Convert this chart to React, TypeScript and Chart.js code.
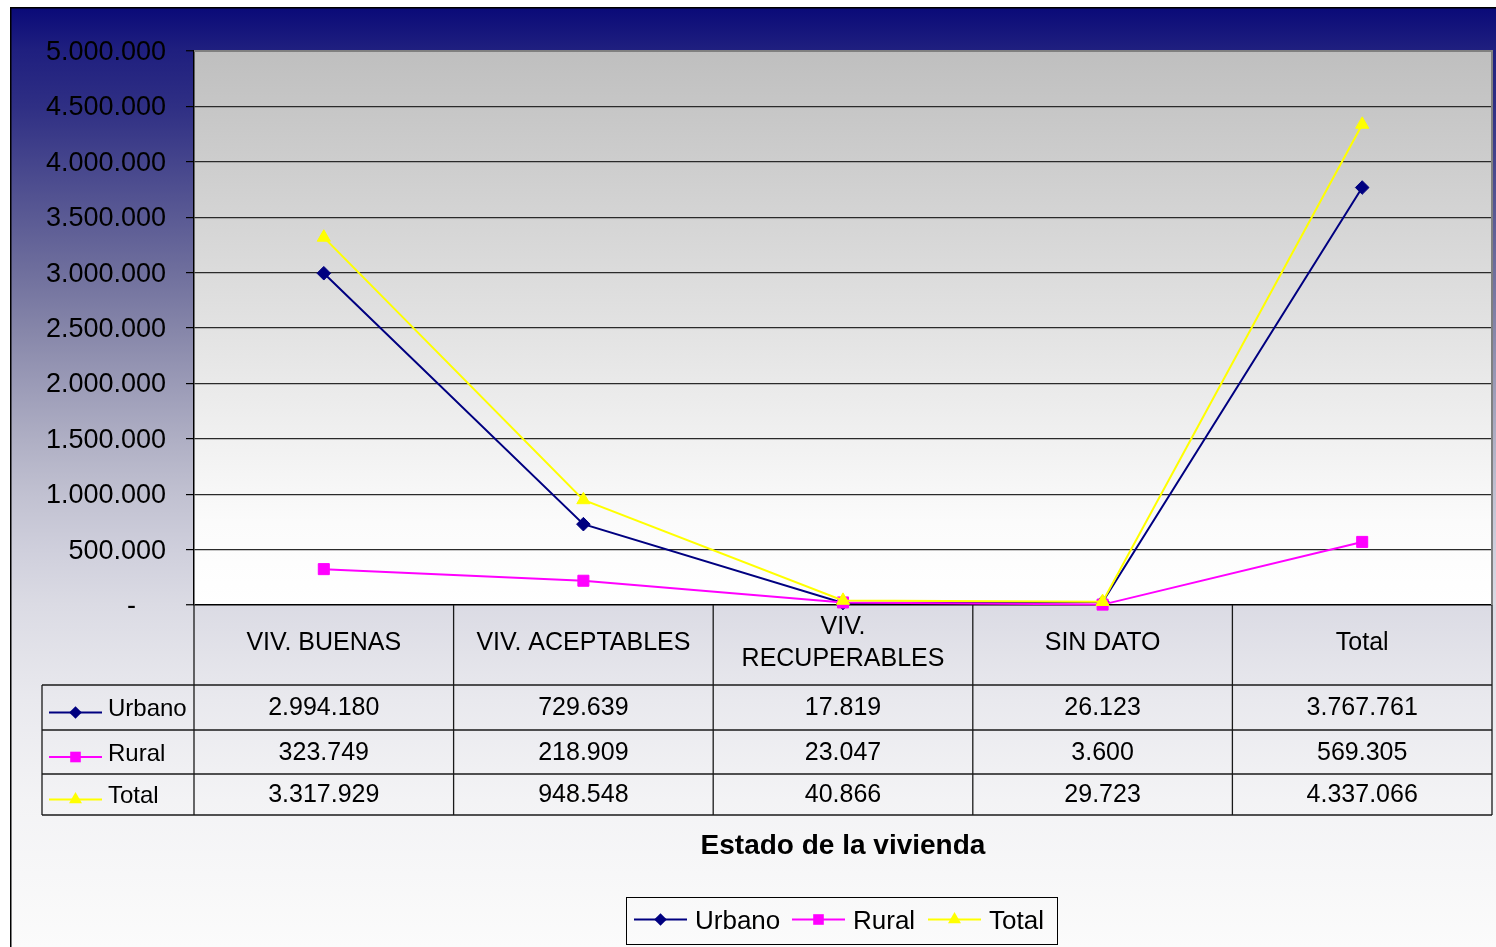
import React, { useEffect, useRef } from 'react';
import { Chart, registerables } from 'chart.js';

Chart.register(...registerables);

// ---------- DATA ----------
const categories: string[][] = [
  ['VIV. BUENAS'],
  ['VIV. ACEPTABLES'],
  ['VIV.', 'RECUPERABLES'],
  ['SIN DATO'],
  ['Total'],
];
const urbano = [2994180, 729639, 17819, 26123, 3767761];
const rural = [323749, 218909, 23047, 3600, 569305];
const total = [3317929, 948548, 40866, 29723, 4337066];
const seriesNames = ['Urbano', 'Rural', 'Total'];
const seriesData = [urbano, rural, total];
const seriesColors = ['#000080', '#FF00FF', '#FFFF00'];
const pointStyles = ['rectRot', 'rect', 'triangle'];
const pointRadii = [6.8, 7.8, 7.6];
const yMin = 0;
const yMax = 5000000;
const yStep = 500000;
const axisTitle = 'Estado de la vivienda';

const FONT = '"Liberation Sans", Arial, Helvetica, sans-serif';

function fmt(v: number): string {
  return String(Math.round(v)).replace(/\B(?=(\d{3})+(?!\d))/g, '.');
}

function drawMarker(ctx: CanvasRenderingContext2D, style: string, x: number, y: number, r: number, color: string) {
  ctx.save();
  ctx.fillStyle = color;
  ctx.beginPath();
  if (style === 'rectRot') {
    ctx.moveTo(x, y - r);
    ctx.lineTo(x + r, y);
    ctx.lineTo(x, y + r);
    ctx.lineTo(x - r, y);
    ctx.closePath();
  } else if (style === 'rect') {
    const s = r * Math.SQRT1_2;
    ctx.rect(x - s, y - s, 2 * s, 2 * s);
  } else {
    const c = Math.cos(Math.PI / 6) * r;
    ctx.moveTo(x, y - r);
    ctx.lineTo(x + c, y + r / 2);
    ctx.lineTo(x - c, y + r / 2);
    ctx.closePath();
  }
  ctx.fill();
  ctx.restore();
}

function drawLegendSymbol(ctx: CanvasRenderingContext2D, i: number, x0: number, x1: number, y: number, r: number) {
  ctx.save();
  ctx.strokeStyle = seriesColors[i];
  ctx.lineWidth = 2;
  ctx.beginPath();
  ctx.moveTo(x0, y);
  ctx.lineTo(x1, y);
  ctx.stroke();
  ctx.restore();
  drawMarker(ctx, pointStyles[i], (x0 + x1) / 2, y, r, seriesColors[i]);
}

const decorPlugin = {
  id: 'excelDecor',
  beforeDraw(chart: any) {
    const { ctx, chartArea: ca } = chart;
    const W = chart.width;
    const H = chart.height;
    ctx.save();
    const g = ctx.createLinearGradient(0, 7, 0, H);
    const stops: [number, string][] = [
      [7, '#0a0a78'], [50, '#1f1f7f'], [107, '#2f2f84'], [160, '#44448c'], [217, '#5a5a94'],
      [272, '#6f6f9d'], [330, '#8686a9'], [385, '#9b9bb7'], [440, '#afafc4'], [495, '#c1c1d1'],
      [550, '#cfcfdc'], [605, '#dbdbe4'], [700, '#e9e9ee'], [800, '#f3f3f5'], [947, '#fbfbfb'],
    ];
    stops.forEach(([y, c]) => g.addColorStop(Math.min(1, Math.max(0, (y - 7) / (H - 7))), c));
    ctx.fillStyle = g;
    ctx.fillRect(10, 7, W - 10, H - 7);
    ctx.strokeStyle = '#000';
    ctx.lineWidth = 1.5;
    ctx.beginPath();
    ctx.moveTo(10.75, H);
    ctx.lineTo(10.75, 7.75);
    ctx.lineTo(W, 7.75);
    ctx.stroke();
    // plot area
    const pg = ctx.createLinearGradient(0, ca.top, 0, ca.bottom);
    pg.addColorStop(0, '#bfbfbf');
    pg.addColorStop(0.55, '#e6e6e6');
    pg.addColorStop(0.85, '#fbfbfb');
    pg.addColorStop(1, '#ffffff');
    ctx.fillStyle = pg;
    ctx.fillRect(ca.left, ca.top, ca.right - ca.left, ca.bottom - ca.top);
    ctx.restore();
  },
  beforeDatasetsDraw(chart: any) {
    const { ctx, chartArea: ca } = chart;
    ctx.save();
    ctx.strokeStyle = '#808080';
    ctx.lineWidth = 2;
    ctx.beginPath();
    ctx.moveTo(ca.left, ca.top);
    ctx.lineTo(ca.right, ca.top);
    ctx.lineTo(ca.right, ca.bottom);
    ctx.stroke();
    ctx.restore();
  },
  afterDraw(chart: any) {
    const { ctx, chartArea: ca } = chart;
    const xs = chart.scales.x;
    const colW = xs.getPixelForValue(1) - xs.getPixelForValue(0);
    const headerTop = ca.bottom;
    const headerBottom = headerTop + 80;
    const rowLines = [headerBottom, headerBottom + 45, headerBottom + 89, headerBottom + 130];
    const labelLeft = 42;
    const right = ca.right;

    ctx.save();
    ctx.strokeStyle = '#1a1a1a';
    ctx.lineWidth = 1.3;
    rowLines.forEach((y) => {
      ctx.beginPath();
      ctx.moveTo(labelLeft, y);
      ctx.lineTo(right, y);
      ctx.stroke();
    });
    ctx.beginPath();
    ctx.moveTo(labelLeft, rowLines[0]);
    ctx.lineTo(labelLeft, rowLines[3]);
    ctx.stroke();
    for (let i = 0; i <= categories.length; i++) {
      const x = i < categories.length ? xs.getPixelForValue(i) - colW / 2 : xs.getPixelForValue(i - 1) + colW / 2;
      ctx.beginPath();
      ctx.moveTo(x, headerTop);
      ctx.lineTo(x, rowLines[3]);
      ctx.stroke();
    }

    ctx.fillStyle = '#000';
    ctx.textAlign = 'center';
    ctx.textBaseline = 'middle';
    ctx.font = `25px ${FONT}`;
    categories.forEach((lines, i) => {
      const cx = xs.getPixelForValue(i);
      const cy = (headerTop + headerBottom) / 2 - 2;
      const lh = 32;
      lines.forEach((t, k) => {
        ctx.fillText(t, cx, cy + (k - (lines.length - 1) / 2) * lh);
      });
    });
    seriesData.forEach((vals, r) => {
      const cy = (rowLines[r] + rowLines[r + 1]) / 2 + 1;
      ctx.font = `25px ${FONT}`;
      vals.forEach((v, i) => {
        ctx.textAlign = 'center';
        ctx.fillText(fmt(v), xs.getPixelForValue(i), cy);
      });
      drawLegendSymbol(ctx, r, 49, 102, cy + 4, [6.3, 7.5, 7.5][r]);
      ctx.font = `24px ${FONT}`;
      ctx.textAlign = 'left';
      ctx.fillText(seriesNames[r], 108, cy + 1);
    });

    ctx.textAlign = 'center';
    ctx.font = `bold 28px ${FONT}`;
    ctx.fillText(axisTitle, (ca.left + ca.right) / 2, 846);

    const lx0 = 626, lx1 = 1057, ly0 = 897, ly1 = 944;
    ctx.strokeStyle = '#000';
    ctx.lineWidth = 1;
    ctx.strokeRect(lx0 + 0.5, ly0 + 0.5, lx1 - lx0, ly1 - ly0);
    ctx.font = `26px ${FONT}`;
    ctx.textAlign = 'left';
    const ly = (ly0 + ly1) / 2;
    const itemX = [634, 792, 928];
    seriesNames.forEach((name, i) => {
      drawLegendSymbol(ctx, i, itemX[i], itemX[i] + 53, ly - 1, [6.3, 7.5, 7.5][i]);
      ctx.fillText(name, itemX[i] + 61, ly + 1);
    });
    ctx.restore();
  },
};

export default function App() {
  const canvasRef = useRef<HTMLCanvasElement | null>(null);

  useEffect(() => {
    if (!canvasRef.current) return;
    const chart = new Chart(canvasRef.current, {
      type: 'line',
      data: {
        labels: categories.map((c) => c.join(' ')),
        datasets: seriesNames.map((name, i) => ({
          label: name,
          data: seriesData[i],
          borderColor: seriesColors[i],
          backgroundColor: seriesColors[i],
          borderWidth: 2,
          pointStyle: pointStyles[i] as any,
          pointRadius: pointRadii[i],
          pointHoverRadius: pointRadii[i],
          pointBorderWidth: 1,
          pointBorderColor: seriesColors[i],
          pointBackgroundColor: seriesColors[i],
          tension: 0,
          clip: false as any,
          order: 3 - i,
        })),
      },
      options: {
        responsive: false,
        animation: false,
        layout: { autoPadding: false, padding: { left: 0, top: 51, right: 4, bottom: 342 } },
        plugins: {
          legend: { display: false },
          tooltip: { enabled: false },
          title: { display: false },
        },
        scales: {
          x: {
            type: 'category',
            display: false,
            offset: true,
          },
          y: {
            min: yMin,
            max: yMax,
            afterFit: (scale: any) => {
              scale.width = 194;
            },
            ticks: {
              stepSize: yStep,
              padding: 20,
              labelOffset: 1.5,
              color: '#000',
              font: { family: FONT, size: 27 },
              callback: (v: any) => (Number(v) === 0 ? '-    ' : fmt(Number(v))),
            },
            grid: {
              color: (c: any) => (c.tick && c.tick.value === 0 ? '#000' : c.tick && c.tick.value === yMax ? '#808080' : '#2a2a2a'),
              lineWidth: (c: any) => (c.tick && (c.tick.value === 0 || c.tick.value === yMax) ? 1.5 : 1.2),
              tickLength: 8,
              tickColor: '#000',
              tickWidth: 1.2,
            },
            border: { display: true, color: '#000', width: 1.5 },
          },
        },
      },
      plugins: [decorPlugin],
    });
    return () => chart.destroy();
  }, []);

  return (
    <div style={{ position: 'fixed', left: 0, top: 0, width: 1496, height: 947, background: '#fff' }}>
      <canvas ref={canvasRef} width={1496} height={947} style={{ display: 'block' }} />
    </div>
  );
}
